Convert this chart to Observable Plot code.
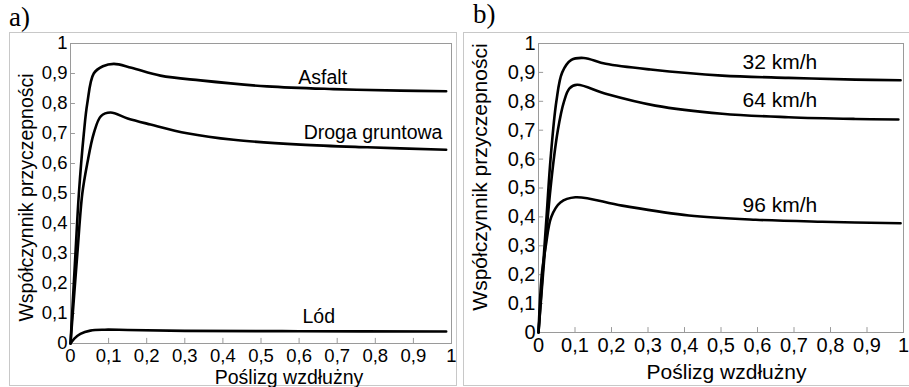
<!DOCTYPE html>
<html><head><meta charset="utf-8">
<script src="https://cdn.jsdelivr.net/npm/d3@7"></script>
<script src="https://cdn.jsdelivr.net/npm/@observablehq/plot@0.6"></script>
<style>
body{margin:0;background:#fff;}
#root{position:relative;width:909px;height:387px;overflow:hidden;}
.panel{position:absolute;top:0;}
.frame{position:absolute;border:1px solid #c8c8c8;box-sizing:border-box;}
.tag{position:absolute;font-family:"Liberation Serif","Times New Roman",serif;font-size:27px;line-height:27px;color:#000;}
</style></head><body><div id="root"></div>
<script>
// ---- data ----
const panelTags = ["a)", "b)"];
const xTitle = "Poślizg wzdłużny";
const yTitle = "Współczynnik przyczepności";
const tickValues = [0, 0.1, 0.2, 0.3, 0.4, 0.5, 0.6, 0.7, 0.8, 0.9, 1];

// panel a) surfaces: [slip, friction coefficient]
const asfalt = [[0,0],[0.013,0.3],[0.022,0.5],[0.035,0.7],[0.044,0.8],[0.061,0.9],[0.085,0.924],[0.114,0.932],[0.16,0.919],[0.236,0.893],[0.341,0.877],[0.516,0.857],[0.69,0.848],[0.866,0.843],[0.986,0.841]];
const drogaGruntowa = [[0,0],[0.018,0.3],[0.031,0.5],[0.044,0.6],[0.061,0.7],[0.08,0.758],[0.105,0.77],[0.15,0.75],[0.21,0.73],[0.306,0.701],[0.428,0.679],[0.604,0.663],[0.779,0.654],[0.986,0.646]];
const lod = [[0,0],[0.01,0.016],[0.026,0.032],[0.052,0.043],[0.09,0.046],[0.15,0.045],[0.3,0.042],[0.6,0.041],[0.986,0.04]];
const surfaceNames = ["Asfalt", "Droga gruntowa", "Lód"];
const surfaceLabelX = [0.598, 0.612, 0.609];
const surfaceLabelY = [0.887, 0.703, 0.09];

// panel b) speeds: [slip, friction coefficient]
const v32 = [[0,0],[0.022,0.4],[0.033,0.6],[0.049,0.8],[0.065,0.9],[0.09,0.943],[0.124,0.95],[0.184,0.93],[0.307,0.91],[0.503,0.889],[0.685,0.881],[0.868,0.875],[0.992,0.873]];
const v64 = [[0,0],[0.033,0.5],[0.053,0.7],[0.07,0.8],[0.085,0.845],[0.106,0.857],[0.184,0.826],[0.32,0.785],[0.503,0.757],[0.685,0.745],[0.868,0.739],[0.986,0.737]];
const v96 = [[0,0],[0.009,0.2],[0.02,0.3],[0.035,0.4],[0.06,0.45],[0.101,0.468],[0.229,0.439],[0.412,0.405],[0.595,0.39],[0.777,0.383],[0.992,0.378]];
const speedNames = ["32 km/h", "64 km/h", "96 km/h"];
const speedLabelX = [0.559, 0.559, 0.559];
const speedLabelY = [0.934, 0.803, 0.439];

// ---- helpers ----
const fmt = d => (d === 0 || d === 1) ? String(d) : d.toFixed(1).replace(".", ",");
const toRows = (pts, name) => pts.map(([s, m]) => ({slip: s, mu: m, name}));
const FONT = "Liberation Sans, Arial, sans-serif";

function panel(cfg) {
  const rows = cfg.series.flatMap((pts, i) => toRows(pts, cfg.names[i]));
  const labels = cfg.names.map((n, i) => ({n, x: cfg.lx[i], y: cfg.ly[i]}));
  return Plot.plot({
    width: cfg.width, height: 387,
    marginLeft: cfg.ml, marginRight: cfg.mr, marginTop: 43, marginBottom: cfg.mb,
    style: {fontFamily: FONT, fontSize: cfg.tickFont + "px", color: "#000", background: "transparent", overflow: "visible"},
    x: {domain: [0, 1]},
    y: {domain: [0, 1]},
    marks: [
      Plot.ruleX(tickValues, {x: d => d, y1: 0, y2: cfg.tx, stroke: "#9a9a9a"}),
      Plot.ruleY(tickValues, {y: d => d, x1: 0, x2: cfg.ty, stroke: "#9a9a9a"}),
      Plot.frame({stroke: "#9a9a9a"}),
      Plot.axisX({ticks: tickValues, tickFormat: fmt, tickSize: 0, tickPadding: cfg.xpad, label: null, fill: "#000"}),
      Plot.axisY({ticks: tickValues, tickFormat: fmt, tickSize: 0, tickPadding: 3, label: null, fill: "#000"}),
      Plot.line(rows, {x: "slip", y: "mu", z: "name", stroke: "#000", strokeWidth: 2.6, curve: "catmull-rom"}),
      Plot.text(labels, {x: "x", y: "y", text: "n", textAnchor: "start", fontSize: cfg.titleFont, fill: "#000"}),
      Plot.text([xTitle], {text: d => d, frameAnchor: "bottom", dx: cfg.xdx, dy: cfg.xdy, textAnchor: "middle", lineAnchor: "middle", fontSize: cfg.titleFont, fill: "#000"}),
      Plot.text([yTitle], {text: d => d, frameAnchor: "left", rotate: -90, dx: cfg.ydx, dy: cfg.ydy, textAnchor: "middle", lineAnchor: "middle", fontSize: cfg.titleFont, fill: "#000"})
    ]
  });
}

const root = document.getElementById("root");

function addFrame(l, t, w, h) {
  const f = document.createElement("div");
  f.className = "frame";
  Object.assign(f.style, {left: l + "px", top: t + "px", width: w + "px", height: h + "px"});
  root.appendChild(f);
}
addFrame(9, 32, 448, 354);
addFrame(463, 32, 460, 354);

function addTag(text, l, t) {
  const d = document.createElement("div");
  d.className = "tag";
  d.textContent = text;
  Object.assign(d.style, {left: l + "px", top: t + "px"});
  root.appendChild(d);
}
addTag(panelTags[0], 9, 4);
addTag(panelTags[1], 473, 1);

const pa = panel({
  series: [asfalt, drogaGruntowa, lod], names: surfaceNames, lx: surfaceLabelX, ly: surfaceLabelY,
  width: 458, ml: 70, mr: 7, mb: 44, tickFont: 18.5, titleFont: 19.5,
  tx: 0.017, ty: 0.013, xpad: 5, xdx: 28, xdy: 34, ydx: -44, ydy: 4
});
const wa = document.createElement("div"); wa.className = "panel"; wa.style.left = "0px"; wa.appendChild(pa); root.appendChild(wa);

const pb = panel({
  series: [v32, v64, v96], names: speedNames, lx: speedLabelX, ly: speedLabelY,
  width: 451, ml: 80, mr: 6, mb: 55, tickFont: 20, titleFont: 21,
  tx: 0.017, ty: 0.014, xpad: 5, xdx: 5.5, xdy: 40, ydx: -58, ydy: -11
});
const wb = document.createElement("div"); wb.className = "panel"; wb.style.left = "458px"; wb.appendChild(pb); root.appendChild(wb);
</script>
</body></html>
